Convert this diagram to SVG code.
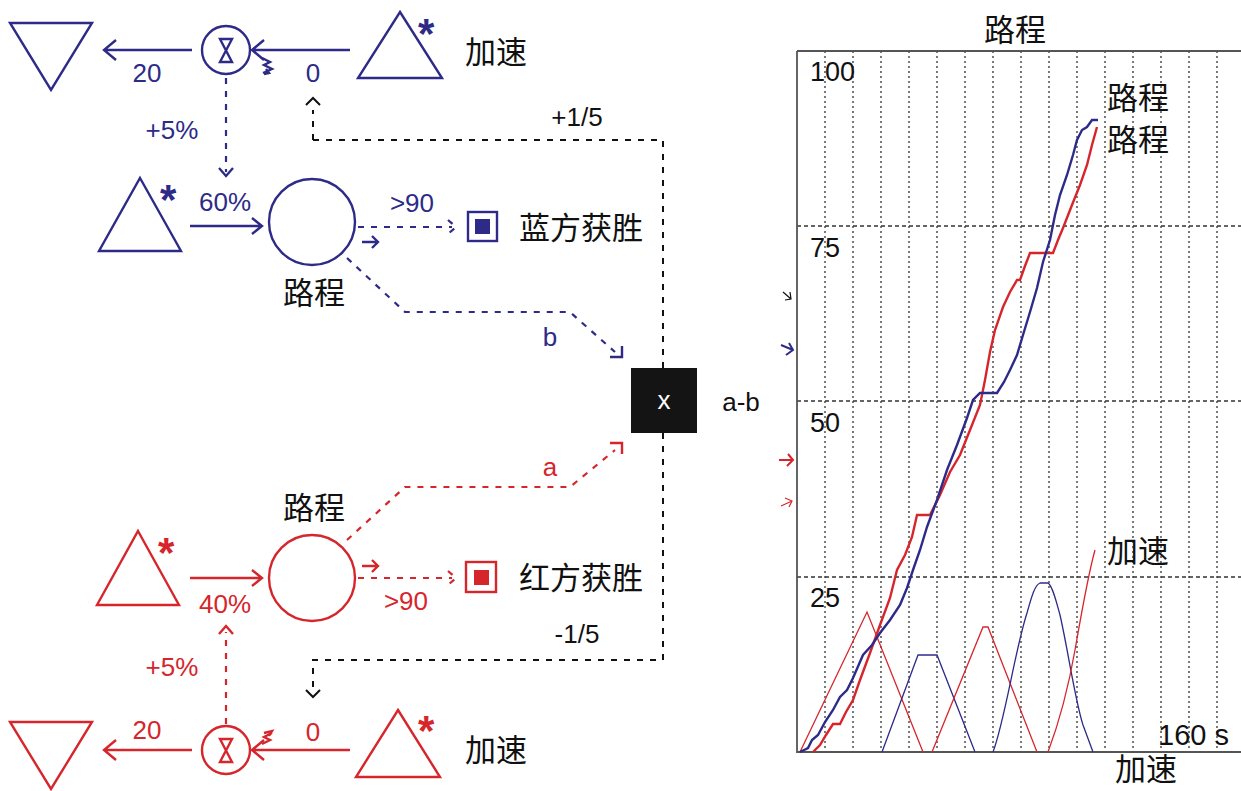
<svg xmlns="http://www.w3.org/2000/svg" width="1241" height="791" viewBox="0 0 1241 791">
<style>
.b{stroke:#2e2b88;fill:none;stroke-width:2.4}
.r{stroke:#d6262c;fill:none;stroke-width:2.4}
.k{stroke:#111;fill:none;stroke-width:2}
.bd{stroke:#2e2b88;fill:none;stroke-width:2.2;stroke-dasharray:6 7}
.rd{stroke:#d6262c;fill:none;stroke-width:2.2;stroke-dasharray:6 7}
.kd{stroke:#111;fill:none;stroke-width:2;stroke-dasharray:6 7}
.t{font-family:"Liberation Sans",Arial,sans-serif;font-size:26px}
.c{font-family:"Noto Sans CJK SC","Noto Sans",sans-serif;font-size:31px;fill:#111}
.tb{fill:#2e2b88}.tr{fill:#d6262c}.tk{fill:#111}
.star{font-family:"Liberation Sans",sans-serif;font-size:42px;font-weight:bold}
.grid{stroke:#333;stroke-width:1.3;stroke-dasharray:2 3;fill:none}
.hgrid{stroke:#333;stroke-width:1.3;stroke-dasharray:4 3;fill:none}
</style>
<rect width="1241" height="791" fill="#fff"/>

<!-- Connectors -->
<g id="connectors">
  <path class="b" d="M192,50 H104 M116,40 L104,50 L116,60"/>
  <path class="b" d="M350,50 H252 M264,40 L252,50 L264,60"/>
  <path class="b" stroke-width="1.5" d="M262,58 l8,4 l-6,3 l8,4 l-9,4 M266,69 l3,4 l-5,1"/>
  <path class="bd" d="M226,78 V172"/>
  <path class="b" d="M219,168 L226,176 L233,168"/>
  <path class="kd" d="M313,140 V110 M313,140 H663 V368"/>
  <path class="k" d="M306,105 L313,98 L320,105"/>
  <path class="b" d="M190,226 H262 M252,218 L262,226 L252,234"/>
  <path class="bd" d="M358,227 H452 M448,220 L456,227 L448,234"/>
  <path class="b" stroke-width="2" d="M362,242 H378 M372,236 L378,242 L372,248"/>
  <path class="bd" d="M347,258 L405,312 H570 L615,352"/>
  <path class="b" d="M622,346 V357 H610"/>
  <path class="kd" d="M663,433 V660 H313 V690"/>
  <path class="k" d="M306,690 L313,697 L320,690"/>
  <path class="rd" d="M347,540 L405,487 H570 L615,450"/>
  <path class="r" d="M610,443 H622 V454"/>
  <path class="r" d="M190,578 H262 M252,570 L262,578 L252,586"/>
  <path class="rd" d="M358,578 H452 M448,571 L456,578 L448,585"/>
  <path class="r" stroke-width="2" d="M362,566 H378 M372,560 L378,566 L372,572"/>
  <path class="rd" d="M226,724 V632"/>
  <path class="r" d="M219,634 L226,626 L233,634"/>
  <path class="r" d="M192,750 H104 M116,740 L104,750 L116,760"/>
  <path class="r" d="M350,750 H252 M264,740 L252,750 L264,760"/>
  <path class="r" stroke-width="1.5" d="M262,744 l8,-4 l-6,-3 l8,-4 M264,733 l8,-2 l-3,5"/>
</g>

<!-- Blue top row -->
<g id="blue-sink"><path class="b" d="M10,23 H92 L51,90 Z"/></g>
<g id="blue-valve"><circle class="b" cx="226" cy="50" r="24"/><path class="b" d="M220,39 H232 L220,62 H232 Z"/></g>
<g id="blue-source"><path class="b" d="M400,12 L442,78 H358 Z"/><text class="star tb" x="418" y="48">*</text></g>
<text class="t tb" x="147" y="82" text-anchor="middle">20</text>
<text class="t tb" x="313" y="82" text-anchor="middle">0</text>
<text class="c" x="465" y="63">加速</text>
<text class="t tb" x="172" y="139" text-anchor="middle">+5%</text>
<text class="t tk" x="577" y="126" text-anchor="middle">+1/5</text>

<!-- Blue middle row -->
<g id="blue-inflow"><path class="b" d="M140,178 L181,251 H99 Z"/><text class="star tb" x="160" y="214">*</text></g>
<text class="t tb" x="225" y="211" text-anchor="middle">60%</text>
<g id="blue-stock"><circle class="b" cx="312" cy="222" r="43"/></g>
<text class="c" x="314" y="304" text-anchor="middle">路程</text>
<text class="t tb" x="412" y="212" text-anchor="middle">&gt;90</text>
<g id="blue-win"><rect class="b" x="468" y="212" width="29" height="29"/><rect x="475" y="219" width="15" height="15" fill="#2e2b88"/></g>
<text class="c" x="519" y="239">蓝方获胜</text>
<text class="t tb" x="550" y="346" text-anchor="middle">b</text>

<!-- Multiplier -->
<g id="multiplier"><rect x="631" y="368" width="66" height="65" fill="#141414"/><text class="t" x="664" y="409" text-anchor="middle" fill="#fff" font-size="22">x</text></g>
<text class="t tk" x="741" y="411" text-anchor="middle" font-size="28">a-b</text>

<!-- Red middle row -->
<text class="t tr" x="550" y="476" text-anchor="middle">a</text>
<text class="c" x="314" y="519" text-anchor="middle">路程</text>
<g id="red-stock"><circle class="r" cx="312" cy="578" r="43"/></g>
<g id="red-inflow"><path class="r" d="M138,531 L179,605 H97 Z"/><text class="star tr" x="158" y="567">*</text></g>
<text class="t tr" x="225" y="613" text-anchor="middle">40%</text>
<text class="t tr" x="406" y="610" text-anchor="middle">&gt;90</text>
<g id="red-win"><rect class="r" x="466" y="562" width="30" height="30"/><rect x="474" y="570" width="15" height="15" fill="#d6262c"/></g>
<text class="c" x="519" y="589">红方获胜</text>
<text class="t tk" x="577" y="643" text-anchor="middle">-1/5</text>

<!-- Red bottom row -->
<text class="t tr" x="172" y="676" text-anchor="middle">+5%</text>
<g id="red-sink"><path class="r" d="M10,722 H92 L51,789 Z"/></g>
<g id="red-valve"><circle class="r" cx="226" cy="750" r="24"/><path class="r" d="M220,739 H232 L220,762 H232 Z"/></g>
<g id="red-source"><path class="r" d="M398,710 L440,777 H356 Z"/><text class="star tr" x="418" y="745">*</text></g>
<text class="t tr" x="147" y="739" text-anchor="middle">20</text>
<text class="t tr" x="313" y="741" text-anchor="middle">0</text>
<text class="c" x="465" y="761">加速</text>

<!-- Chart -->
<g id="chart">
  <g class="grid">
    <path d="M825,51V752M853,51V752M881,51V752M909,51V752M937,51V752M965,51V752M993,51V752M1021,51V752M1049,51V752M1077,51V752M1105,51V752M1133,51V752M1161,51V752M1189,51V752M1217,51V752"/>
  </g>
  <path class="hgrid" d="M797,226H1241M797,401H1241M797,577H1241"/>
  <path d="M797,51H1241M797,51V752H1241" stroke="#555" stroke-width="1.8" fill="none"/>
  <text class="c" x="1015" y="41" text-anchor="middle">路程</text>
  <g font-family="Liberation Sans,Arial,sans-serif" font-size="27" fill="#111">
    <text x="810" y="81">100</text>
    <text x="810" y="257">75</text>
    <text x="810" y="432">50</text>
    <text x="810" y="607">25</text>
    <text x="1158" y="745" font-size="29">160 s</text>
  </g>
  <text class="c" x="1107" y="109">路程</text>
  <text class="c" x="1107" y="151">路程</text>
  <text class="c" x="1107" y="562">加速</text>
  <text class="c" x="1115" y="780" font-size="29">加速</text>
  <path d="M783,292 L791,299 M785,300 L791,299 L790,292" stroke="#111" stroke-width="1.2" fill="none"/>
  <path d="M781,345 L793,350 M786,355 L793,350 L789,343" stroke="#2e2b88" stroke-width="2" fill="none"/>
  <path d="M779,460 L793,460 M788,454 L793,460 L787,466" stroke="#d6262c" stroke-width="2" fill="none"/>
  <path d="M781,506 L792,501 M785,498 L792,501 L789,507" stroke="#d6262c" stroke-width="1.2" fill="none"/>
  <g fill="none" stroke-width="1.3">
    <path stroke="#d6262c" d="M800,752 L867,612 L923,752"/>
    <path stroke="#2e2b88" d="M882,752 L918,655 H937 L975,752"/>
    <path stroke="#d6262c" d="M932,752 L983,627 H988 L1037,752"/>
    <path stroke="#2e2b88" d="M993,752 C1005,720 1015,650 1027,613 C1032,595 1035,585 1040,583 H1048 C1052,585 1056,600 1060,615 C1068,650 1075,700 1083,725 L1093,752"/>
    <path stroke="#d6262c" d="M1048,752 C1060,720 1068,690 1075,650 C1082,610 1088,575 1095,550"/>
  </g>
  <path fill="none" stroke="#d6262c" stroke-width="2.4" d="M813,752 L820,745 L826,735 L833,724 H840 L846,712 L853,700 L860,680 L870,653 L880,625 L890,598 L897,570 L905,555 L912,537 L917,515 H930 L940,495 L950,472 L960,455 L970,430 L980,405 L985,380 L990,352 L995,330 L1003,307 L1010,292 L1017,280 H1020 L1025,266 L1030,253 H1053 L1058,240 L1063,228 L1072,205 L1080,185 L1087,165 L1092,145 L1097,127"/>
  <path fill="none" stroke="#2e2b88" stroke-width="2.4" d="M800,752 L808,748 L812,740 L818,735 L825,722 L833,710 L840,697 L847,690 L853,678 L863,655 L872,645 L880,633 L890,620 L900,605 L907,588 L913,570 L920,550 L927,527 L937,500 L947,470 L957,445 L967,418 L973,400 L980,393 H997 L1004,382 L1010,370 L1017,355 L1023,335 L1030,312 L1037,288 L1043,262 L1050,240 L1055,215 L1060,195 L1067,175 L1073,155 L1077,140 L1082,130 L1087,127 L1092,120 H1098"/>
</g>
</svg>
